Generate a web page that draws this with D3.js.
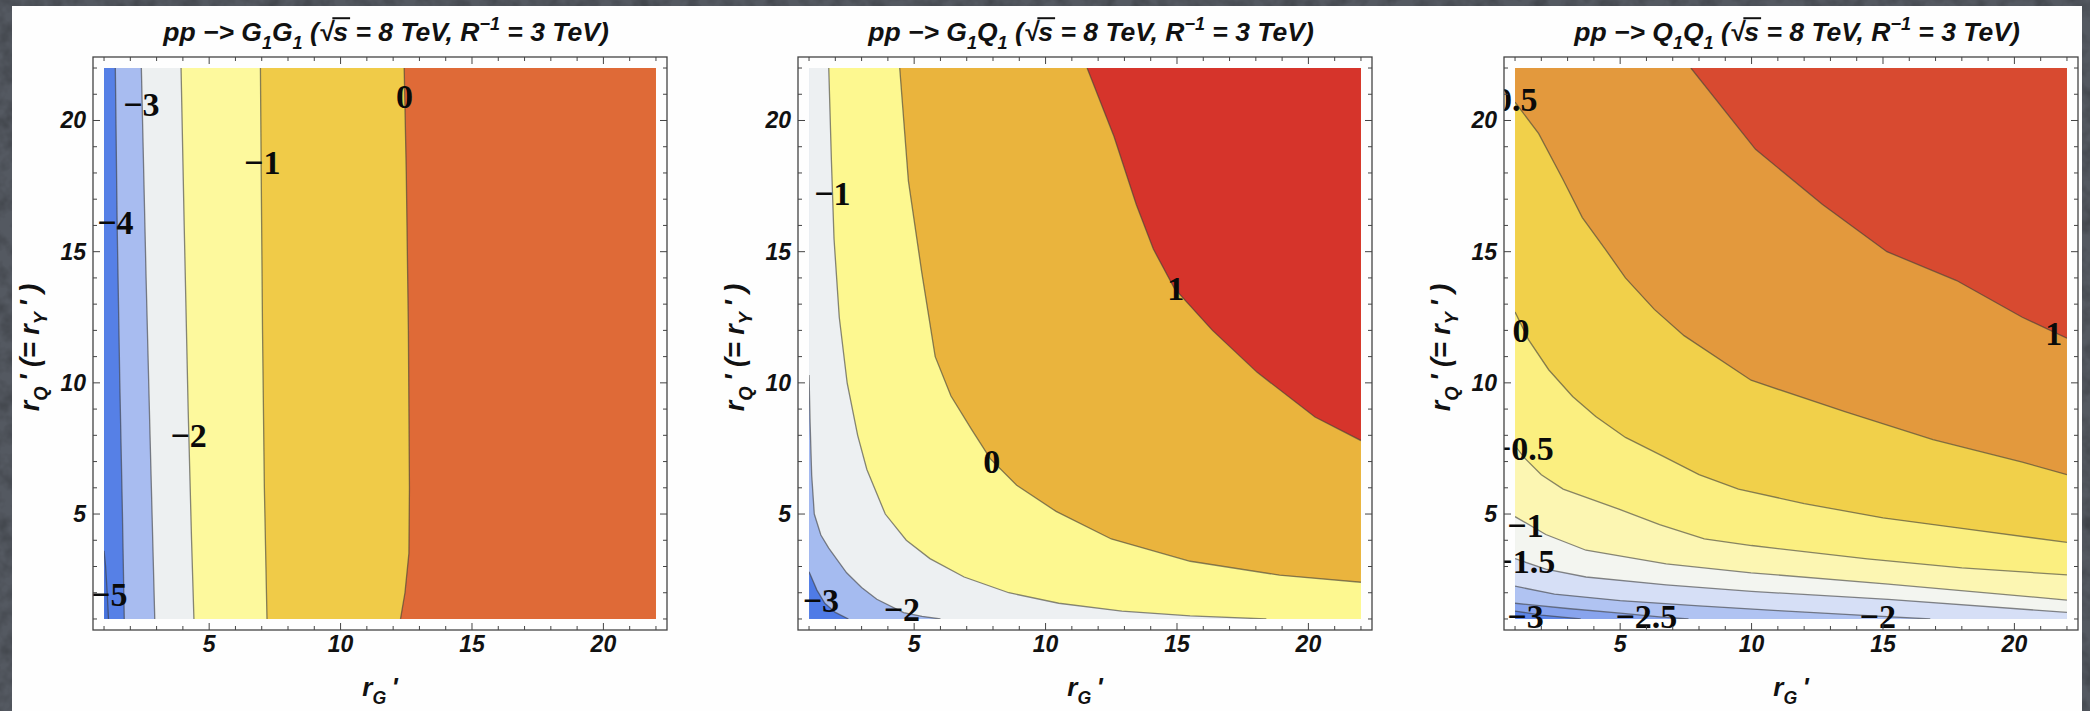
<!DOCTYPE html>
<html>
<head>
<meta charset="utf-8">
<script src="https://cdn.jsdelivr.net/npm/d3@7"></script>
<style>
  html, body { margin: 0; padding: 0; background: #52575f; }
  svg { display: block; }
</style>
</head>
<body>
<svg id="chart" width="2090" height="711"></svg>
<script>
// ---------------- data ----------------
const gridRange = [1, 22];
const xTicks = [5, 10, 15, 20];
const yTicks = [5, 10, 15, 20];

// G1 G1 production
const ggLevels = [-5, -4, -3, -2, -1, 0];
const ggColors = ["#4672dc", "#5680e6", "#a8bcf0", "#edf0f1", "#fdf99d", "#f0cb48", "#df6a37"];
const ggLines = [
  [[1, 3.6], [1.06, 3.0], [1.12, 2.0], [1.17, 1]],
  [[1.43, 22], [1.5, 16], [1.6, 10], [1.7, 5], [1.77, 1]],
  [[2.42, 22], [2.6, 14], [2.75, 8], [2.93, 1]],
  [[3.93, 22], [4.05, 16], [4.2, 9], [4.33, 4], [4.42, 1]],
  [[6.95, 22], [6.98, 18], [7.03, 12], [7.1, 6], [7.18, 2], [7.2, 1]],
  [[12.42, 22], [12.5, 18], [12.58, 12], [12.62, 6], [12.6, 3.5], [12.45, 2], [12.28, 1]]
];
const ggLabels = [
  ["\u22125", 1.2, 1.95], ["\u22124", 1.43, 16.1], ["\u22123", 2.42, 20.6],
  ["\u22122", 4.22, 8.0], ["\u22121", 7.02, 18.4], ["0", 12.43, 20.9]
];

// G1 Q1 production
const gqLevels = [-3, -2, -1, 0, 1];
const gqColors = ["#4f7be6", "#a5bbf0", "#edf0f2", "#fdf890", "#eab43d", "#d6342b"];
const gqLines = [
  [[1, 2.8], [1.3, 2.1], [1.6, 1.6], [2.0, 1.25], [2.5, 1]],
  [[1, 10.3], [1.04, 8.5], [1.1, 6.5], [1.2, 5.0], [1.45, 4.2], [1.75, 3.7], [2.43, 2.76], [3.0, 2.2], [3.58, 1.75], [4.6, 1.24], [5.3, 1.1], [6.0, 1]],
  [[1.75, 22], [1.85, 18.5], [1.95, 15.5], [2.15, 12.5], [2.45, 10], [2.85, 8], [3.2, 6.7], [3.9, 5.0], [4.7, 4.0], [5.6, 3.3], [6.9, 2.6], [8.6, 2.0], [10.5, 1.6], [12.9, 1.3], [15.5, 1.12], [18.4, 1]],
  [[4.45, 22], [4.78, 17.7], [5.29, 14.2], [5.8, 11], [6.4, 9.5], [7.2, 8.2], [7.9, 7.1], [8.9, 6.1], [10.4, 5.1], [12.5, 4.05], [15.5, 3.2], [18.9, 2.67], [22, 2.4]],
  [[11.58, 22], [12.6, 19.4], [13.45, 16.8], [14.1, 15.1], [14.9, 13.6], [16.35, 12.0], [18.05, 10.4], [20.25, 8.7], [22, 7.8]]
];
const gqLabels = [
  ["\u22123", 1.45, 1.7], ["\u22122", 4.53, 1.38], ["\u22121", 1.89, 17.2],
  ["0", 7.95, 7.0], ["1", 14.95, 13.6]
];

// Q1 Q1 production
const qqLevels = [-3, -2.5, -2, -1.5, -1, -0.5, 0, 0.5, 1];
const qqColors = ["#5d85e7", "#88a4ed", "#b0c3f2", "#d6dff6", "#f3f5f0", "#fcf6b2", "#fbef80", "#f1d04a", "#e3993d", "#d84a30"];
const qqLines = [
  [[1, 1.3], [2, 1.15], [3.5, 1]],
  [[1, 1.6], [3, 1.4], [5, 1.22], [6.5, 1.08], [7.6, 1]],
  [[1, 2.25], [2.5, 1.95], [5, 1.7], [8, 1.5], [11, 1.32], [14.6, 1.12], [16.8, 1]],
  [[1, 3.3], [2.17, 2.9], [3.7, 2.6], [6.75, 2.3], [10, 2.05], [15.2, 1.75], [22, 1.25]],
  [[1, 4.9], [2.17, 4.22], [3.7, 3.62], [6.75, 3.1], [9.98, 2.76], [15.2, 2.33], [22, 1.72]],
  [[1, 7.6], [1.35, 7.15], [2.0, 6.5], [2.83, 5.95], [4.95, 5.19], [6.5, 4.6], [8.2, 4.05], [10, 3.8], [14.4, 3.29], [18, 2.95], [22, 2.68]],
  [[1, 12.7], [1.51, 11.65], [2.28, 10.5], [3.19, 9.48], [4.07, 8.72], [5.2, 7.92], [6.64, 7.2], [8, 6.5], [9.5, 5.95], [12, 5.4], [15, 4.85], [18, 4.45], [22, 3.92]],
  [[1, 20.7], [1.9, 19.5], [2.8, 17.8], [3.56, 16.3], [4.43, 15.1], [5.2, 14.0], [6.3, 12.8], [7.43, 11.8], [9.98, 10.1], [13.55, 8.9], [16.9, 7.84], [20.3, 6.98], [22, 6.5]],
  [[7.69, 22], [10.15, 18.9], [12.7, 16.8], [15.15, 15.0], [17.8, 13.9], [20.3, 12.5], [22, 11.7]]
];
const qqLabels = [
  ["0.5", 1.05, 20.8], ["0", 1.23, 12.0], ["\u22120.5", 1.3, 7.5], ["\u22121", 1.4, 4.57],
  ["\u22121.5", 1.35, 3.19], ["\u22123", 1.4, 1.09], ["\u22122.5", 6.0, 1.09], ["\u22122", 14.8, 1.09], ["1", 21.5, 11.9]
];

const panels = [
  { proc: ["G", "G"], lines: ggLines, colors: ggColors, labels: ggLabels, left: 93 },
  { proc: ["G", "Q"], lines: gqLines, colors: gqColors, labels: gqLabels, left: 798 },
  { proc: ["Q", "Q"], lines: qqLines, colors: qqColors, labels: qqLabels, left: 1504 }
];

// ---------------- layout ----------------
const frameTop = 57, frameW = 574, frameH = 573;
const pad = 0.42;
const domain = [gridRange[0] - pad, gridRange[1] + pad];

const svg = d3.select("#chart");
const defs = svg.append("defs");

// slate background with a fine grain
const grain = defs.append("filter").attr("id", "grain")
  .attr("x", 0).attr("y", 0).attr("width", "100%").attr("height", "100%");
grain.append("feTurbulence").attr("type", "fractalNoise").attr("baseFrequency", 0.06)
  .attr("numOctaves", 3).attr("seed", 7).attr("result", "noise");
grain.append("feColorMatrix").attr("type", "matrix")
  .attr("values", "0 0 0 0 0  0 0 0 0 0  0 0 0 0 0  0.9 0 0 0 -0.35");
svg.append("rect").attr("width", 2090).attr("height", 711).attr("fill", "#545961");
svg.append("rect").attr("width", 2090).attr("height", 711).attr("filter", "url(#grain)").attr("opacity", 0.5);

// white slide card
svg.append("rect").attr("x", 12).attr("y", 6).attr("width", 2070).attr("height", 720).attr("fill", "#fefefe");

// boundary walk helpers for filling the region above each contour
const [g0, g1] = gridRange;
const span = g1 - g0, perim = 4 * span;
function perimT([x, y]) {
  const e = 1e-6;
  if (Math.abs(x - g0) < e) return y - g0;
  if (Math.abs(y - g1) < e) return span + (x - g0);
  if (Math.abs(x - g1) < e) return 2 * span + (g1 - y);
  return 3 * span + (g1 - x);
}
const corners = [[0, [g0, g0]], [span, [g0, g1]], [2 * span, [g1, g1]], [3 * span, [g1, g0]]];
const mod = v => ((v % perim) + perim) % perim;
function upperRegion(line) {
  const a = perimT(line[line.length - 1]), b = perimT(line[0]);
  const cw = mod(b - a);
  const pts = line.slice();
  if (mod(2 * span - a) < cw) {
    corners.filter(c => mod(c[0] - a) < cw)
      .sort((p, q) => mod(p[0] - a) - mod(q[0] - a))
      .forEach(c => pts.push(c[1]));
  } else {
    const ccw = mod(a - b);
    corners.filter(c => mod(a - c[0]) < ccw)
      .sort((p, q) => mod(a - p[0]) - mod(a - q[0]))
      .forEach(c => pts.push(c[1]));
  }
  return pts;
}

const sansBI = "'Liberation Sans', Arial, sans-serif";

function richText(sel, parts, fs) {
  let shift = 0;
  parts.forEach(p => {
    const target = p.sub ? fs * 0.3 : p.sup ? -fs * 0.4 : 0;
    const ts = sel.append("tspan").text(p.t).attr("dy", target - shift);
    if (p.sub || p.sup) ts.attr("font-size", fs * 0.68);
    if (p.cls) ts.attr("class", p.cls);
    shift = target;
  });
}

function styleBI(sel, fs) {
  return sel.attr("font-family", sansBI).attr("font-weight", "bold").attr("font-style", "italic")
    .attr("font-size", fs).attr("fill", "#111");
}

panels.forEach((P, pi) => {
  const x = d3.scaleLinear().domain(domain).range([P.left, P.left + frameW]);
  const y = d3.scaleLinear().domain(domain).range([frameTop + frameH, frameTop]);
  const g = svg.append("g");

  const clipId = "plot" + pi, frameClip = "frame" + pi;
  defs.append("clipPath").attr("id", clipId).append("rect")
    .attr("x", x(g0)).attr("y", y(g1)).attr("width", x(g1) - x(g0)).attr("height", y(g0) - y(g1));
  defs.append("clipPath").attr("id", frameClip).append("rect")
    .attr("x", P.left).attr("y", frameTop).attr("width", frameW).attr("height", frameH);

  const line = d3.line().x(d => x(d[0])).y(d => y(d[1]));
  const fills = g.append("g").attr("clip-path", `url(#${clipId})`);
  fills.append("rect")
    .attr("x", x(g0)).attr("y", y(g1)).attr("width", x(g1) - x(g0)).attr("height", y(g0) - y(g1))
    .attr("fill", P.colors[0]);
  P.lines.forEach((ln, i) => {
    fills.append("path").attr("d", line(upperRegion(ln)) + "Z").attr("fill", P.colors[i + 1]);
  });
  P.lines.forEach(ln => {
    fills.append("path").attr("d", line(ln)).attr("fill", "none")
      .attr("stroke", "#3a3a3a").attr("stroke-opacity", 0.6).attr("stroke-width", 1.3);
  });

  // contour labels
  g.append("g").attr("clip-path", `url(#${frameClip})`)
    .selectAll("text").data(P.labels).join("text")
    .attr("x", d => x(d[1])).attr("y", d => y(d[2]))
    .attr("text-anchor", "middle").attr("dominant-baseline", "central")
    .attr("font-family", "'Liberation Serif', 'Times New Roman', serif")
    .attr("font-weight", "bold").attr("font-size", 34).attr("fill", "#0a0a0a")
    .text(d => d[0]);

  // frame and ticks on all four sides
  g.append("rect").attr("x", P.left).attr("y", frameTop).attr("width", frameW).attr("height", frameH)
    .attr("fill", "none").attr("stroke", "#444").attr("stroke-width", 1.3);
  const ints = d3.range(g0, g1 + 1);
  const tk = g.append("g").attr("stroke", "#444").attr("stroke-width", 1);
  ints.forEach(v => {
    const len = v % 5 === 0 ? 7 : 4;
    tk.append("line").attr("x1", x(v)).attr("x2", x(v)).attr("y1", frameTop + frameH).attr("y2", frameTop + frameH - len);
    tk.append("line").attr("x1", x(v)).attr("x2", x(v)).attr("y1", frameTop).attr("y2", frameTop + len);
    tk.append("line").attr("y1", y(v)).attr("y2", y(v)).attr("x1", P.left).attr("x2", P.left + len);
    tk.append("line").attr("y1", y(v)).attr("y2", y(v)).attr("x1", P.left + frameW).attr("x2", P.left + frameW - len);
  });

  // tick labels
  styleBI(g.append("g").selectAll("text").data(xTicks).join("text")
    .attr("x", d => x(d)).attr("y", frameTop + frameH + 22).attr("text-anchor", "middle").text(d => d), 23);
  styleBI(g.append("g").selectAll("text").data(yTicks).join("text")
    .attr("x", P.left - 7).attr("y", d => y(d) + 8).attr("text-anchor", "end").text(d => d), 23);

  // title
  const cx = P.left + frameW / 2;
  const tfs = 26.5, tb = 41;
  const title = styleBI(g.append("text").attr("x", cx + 6).attr("y", tb).attr("text-anchor", "middle"), tfs);
  richText(title, [
    { t: "pp \u2212> " + P.proc[0] }, { t: "1", sub: true }, { t: P.proc[1] }, { t: "1", sub: true },
    { t: " (" }, { t: "\u221A", cls: "rad" }, { t: "s", cls: "radarg" }, { t: "  = 8 TeV, R" },
    { t: "\u22121", sup: true }, { t: " = 3 TeV)" }
  ], tfs);
  const radArg = title.select(".radarg").node();
  const radSign = title.select(".rad").node();
  const sx0 = radSign.getEndPositionOfChar(0).x - 1;
  const sx1 = radArg.getEndPositionOfChar(0).x + 2;
  g.append("line").attr("x1", sx0).attr("x2", sx1).attr("y1", tb - tfs * 0.86).attr("y2", tb - tfs * 0.86)
    .attr("stroke", "#111").attr("stroke-width", 2);

  // axis titles
  const xl = styleBI(g.append("text").attr("x", cx).attr("y", frameTop + frameH + 66).attr("text-anchor", "middle"), 26);
  richText(xl, [{ t: "r" }, { t: "G", sub: true }, { t: "\u2009'" }], 26);
  const yl = styleBI(g.append("text").attr("transform", `translate(${P.left - 54},${frameTop + frameH / 2 + 4}) rotate(-90)`)
    .attr("text-anchor", "middle"), 27);
  richText(yl, [{ t: "r" }, { t: "Q", sub: true }, { t: "\u2009'   (= r" }, { t: "Y", sub: true }, { t: "\u2009' )" }], 27);
});
</script>
</body>
</html>
